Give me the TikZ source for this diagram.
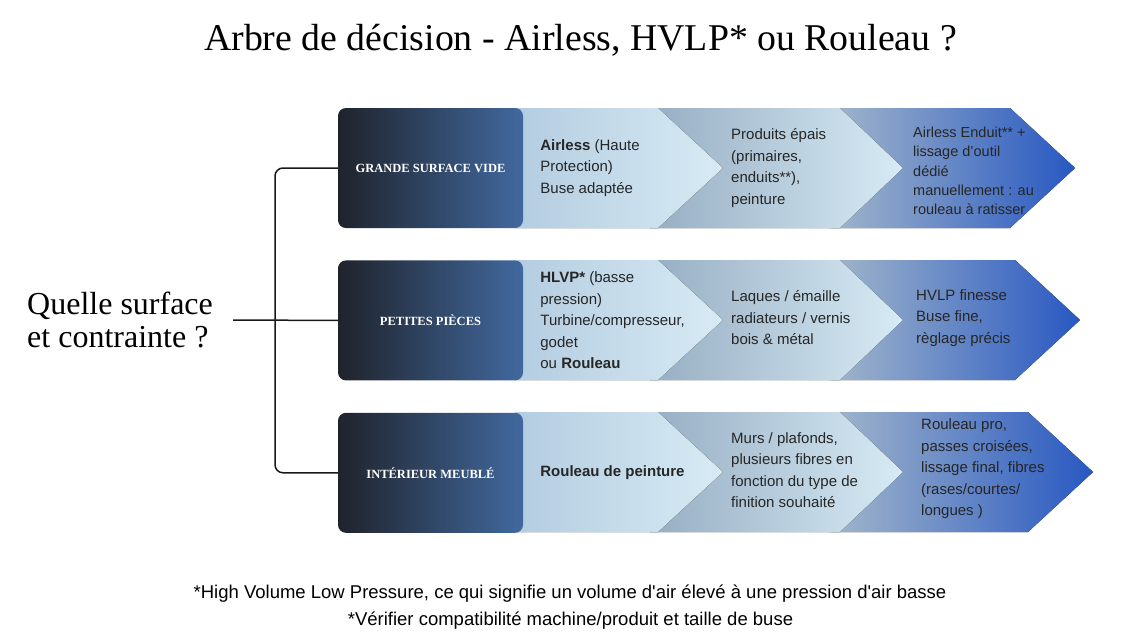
\documentclass[tikz,border=0pt]{standalone}
\usepackage{fontspec}
\setmainfont{Liberation Serif}
\setsansfont{Liberation Sans}
\newfontfamily\notefont{Liberation Sans}
\usetikzlibrary{positioning}

\definecolor{boxdark}{HTML}{1F232B}
\definecolor{boxblue}{HTML}{41699F}
\definecolor{segAl}{HTML}{B3CCE0}
\definecolor{segAr}{HTML}{D8EBF5}
\definecolor{segBl}{HTML}{97AEC3}
\definecolor{segBr}{HTML}{D7EBF5}
\definecolor{segCl}{HTML}{A2B6CA}
\definecolor{segCr}{HTML}{2858C2}
\definecolor{linecol}{HTML}{1A1A1A}

\begin{document}
\begin{tikzpicture}[x=1pt, y=-1pt,
  darkbox/.style={rounded corners=8pt, minimum width=185pt, minimum height=120pt, inner sep=0pt,
    left color=boxdark, right color=boxblue, text=white, font=\bfseries\fontsize{12.5}{15}\selectfont},
  segone/.style={left color=segAl, right color=segAr},
  segtwo/.style={left color=segBl, right color=segBr},
  segthree/.style={left color=segCl, right color=segCr},
  txt/.style={anchor=west, align=left, inner sep=0pt, text=black!85, font=\sffamily\fontsize{15}{21.5}\selectfont},
  link/.style={line width=1.5pt, draw=linecol, rounded corners=8pt}]
\useasboundingbox[fill=white] (0,0) rectangle (1140,641);
% title
\node[anchor=base, font=\fontsize{37.8}{40}\selectfont] (title) at (580.5,50) {Arbre de décision - Airless, HVLP* ou Rouleau ?};
% chevrons
\foreach \c/\e in {168/1010, 320/1015, 472/1028}{
  \fill[segthree] (830,\c-60) -- (\e,\c-60) -- (\e+65,\c) -- (\e,\c+60) -- (830,\c+60) -- cycle;
  \fill[segtwo] (650,\c-60) -- (840,\c-60) -- (903,\c) -- (840,\c+60) -- (650,\c+60) -- cycle;
  \fill[segone] (515,\c-60) -- (658,\c-60) -- (723,\c) -- (658,\c+60) -- (515,\c+60) -- cycle;
}
% surfaces
\node[darkbox] (gsv) at (430.5,168) {GRANDE SURFACE VIDE};
\node[darkbox, below=32pt of gsv] (pp) {PETITES PIÈCES};
\node[darkbox, below=32pt of pp] (im) {INTÉRIEUR MEUBLÉ};
% question
\node[anchor=west, align=left, inner sep=0pt, font=\fontsize{32}{33}\selectfont] (q) at (27,320) {Quelle surface\\et contrainte ?};
\coordinate (br) at (275,320);
\draw[link, shorten <=20pt] (q.east) -- (pp.west);
\draw[link] (gsv.west) -| (br) |- (im.west);
% row 1
\node[txt, right=17pt of gsv] (gsvA) {\textbf{Airless} (Haute\\Protection)\\Buse adaptée};
\node[txt] (gsvB) at (731,168) {Produits épais\\(primaires,\\enduits**),\\peinture};
\node[txt, font=\sffamily\fontsize{14.5}{19.3}\selectfont] (gsvC) at (913,171) {Airless Enduit** +\\lissage d'outil\\dédié\\manuellement : au\\rouleau à ratisser};
% row 2
\node[txt, right=17pt of pp] (ppA) {\textbf{HLVP*} (basse\\pression)\\Turbine/compresseur,\\godet\\ou \textbf{Rouleau}};
\node[txt] (ppB) at (731,318) {Laques / émaille\\radiateurs / vernis\\bois \& métal};
\node[txt] (ppC) at (916,318) {HVLP finesse\\Buse fine,\\règlage précis};
% row 3
\node[txt, right=17pt of im, font=\sffamily\bfseries\fontsize{15}{21.5}\selectfont] (imA) {Rouleau de peinture};
\node[txt] (imB) at (731,470) {Murs / plafonds,\\plusieurs fibres en\\fonction du type de\\finition souhaité};
\node[txt] (imC) at (921,469) {Rouleau pro,\\passes croisées,\\lissage final, fibres\\(rases/courtes/\\longues )};
% notes
\node[anchor=base, font=\notefont\fontsize{18.5}{20}\selectfont] (noteA) at (570,598) {*High Volume Low Pressure, ce qui signifie un volume d'air élevé à une pression d'air basse};
\node[anchor=base, font=\notefont\fontsize{18.5}{20}\selectfont] (noteB) at (570.5,625) {*Vérifier compatibilité machine/produit et taille de buse};
\end{tikzpicture}
\end{document}
